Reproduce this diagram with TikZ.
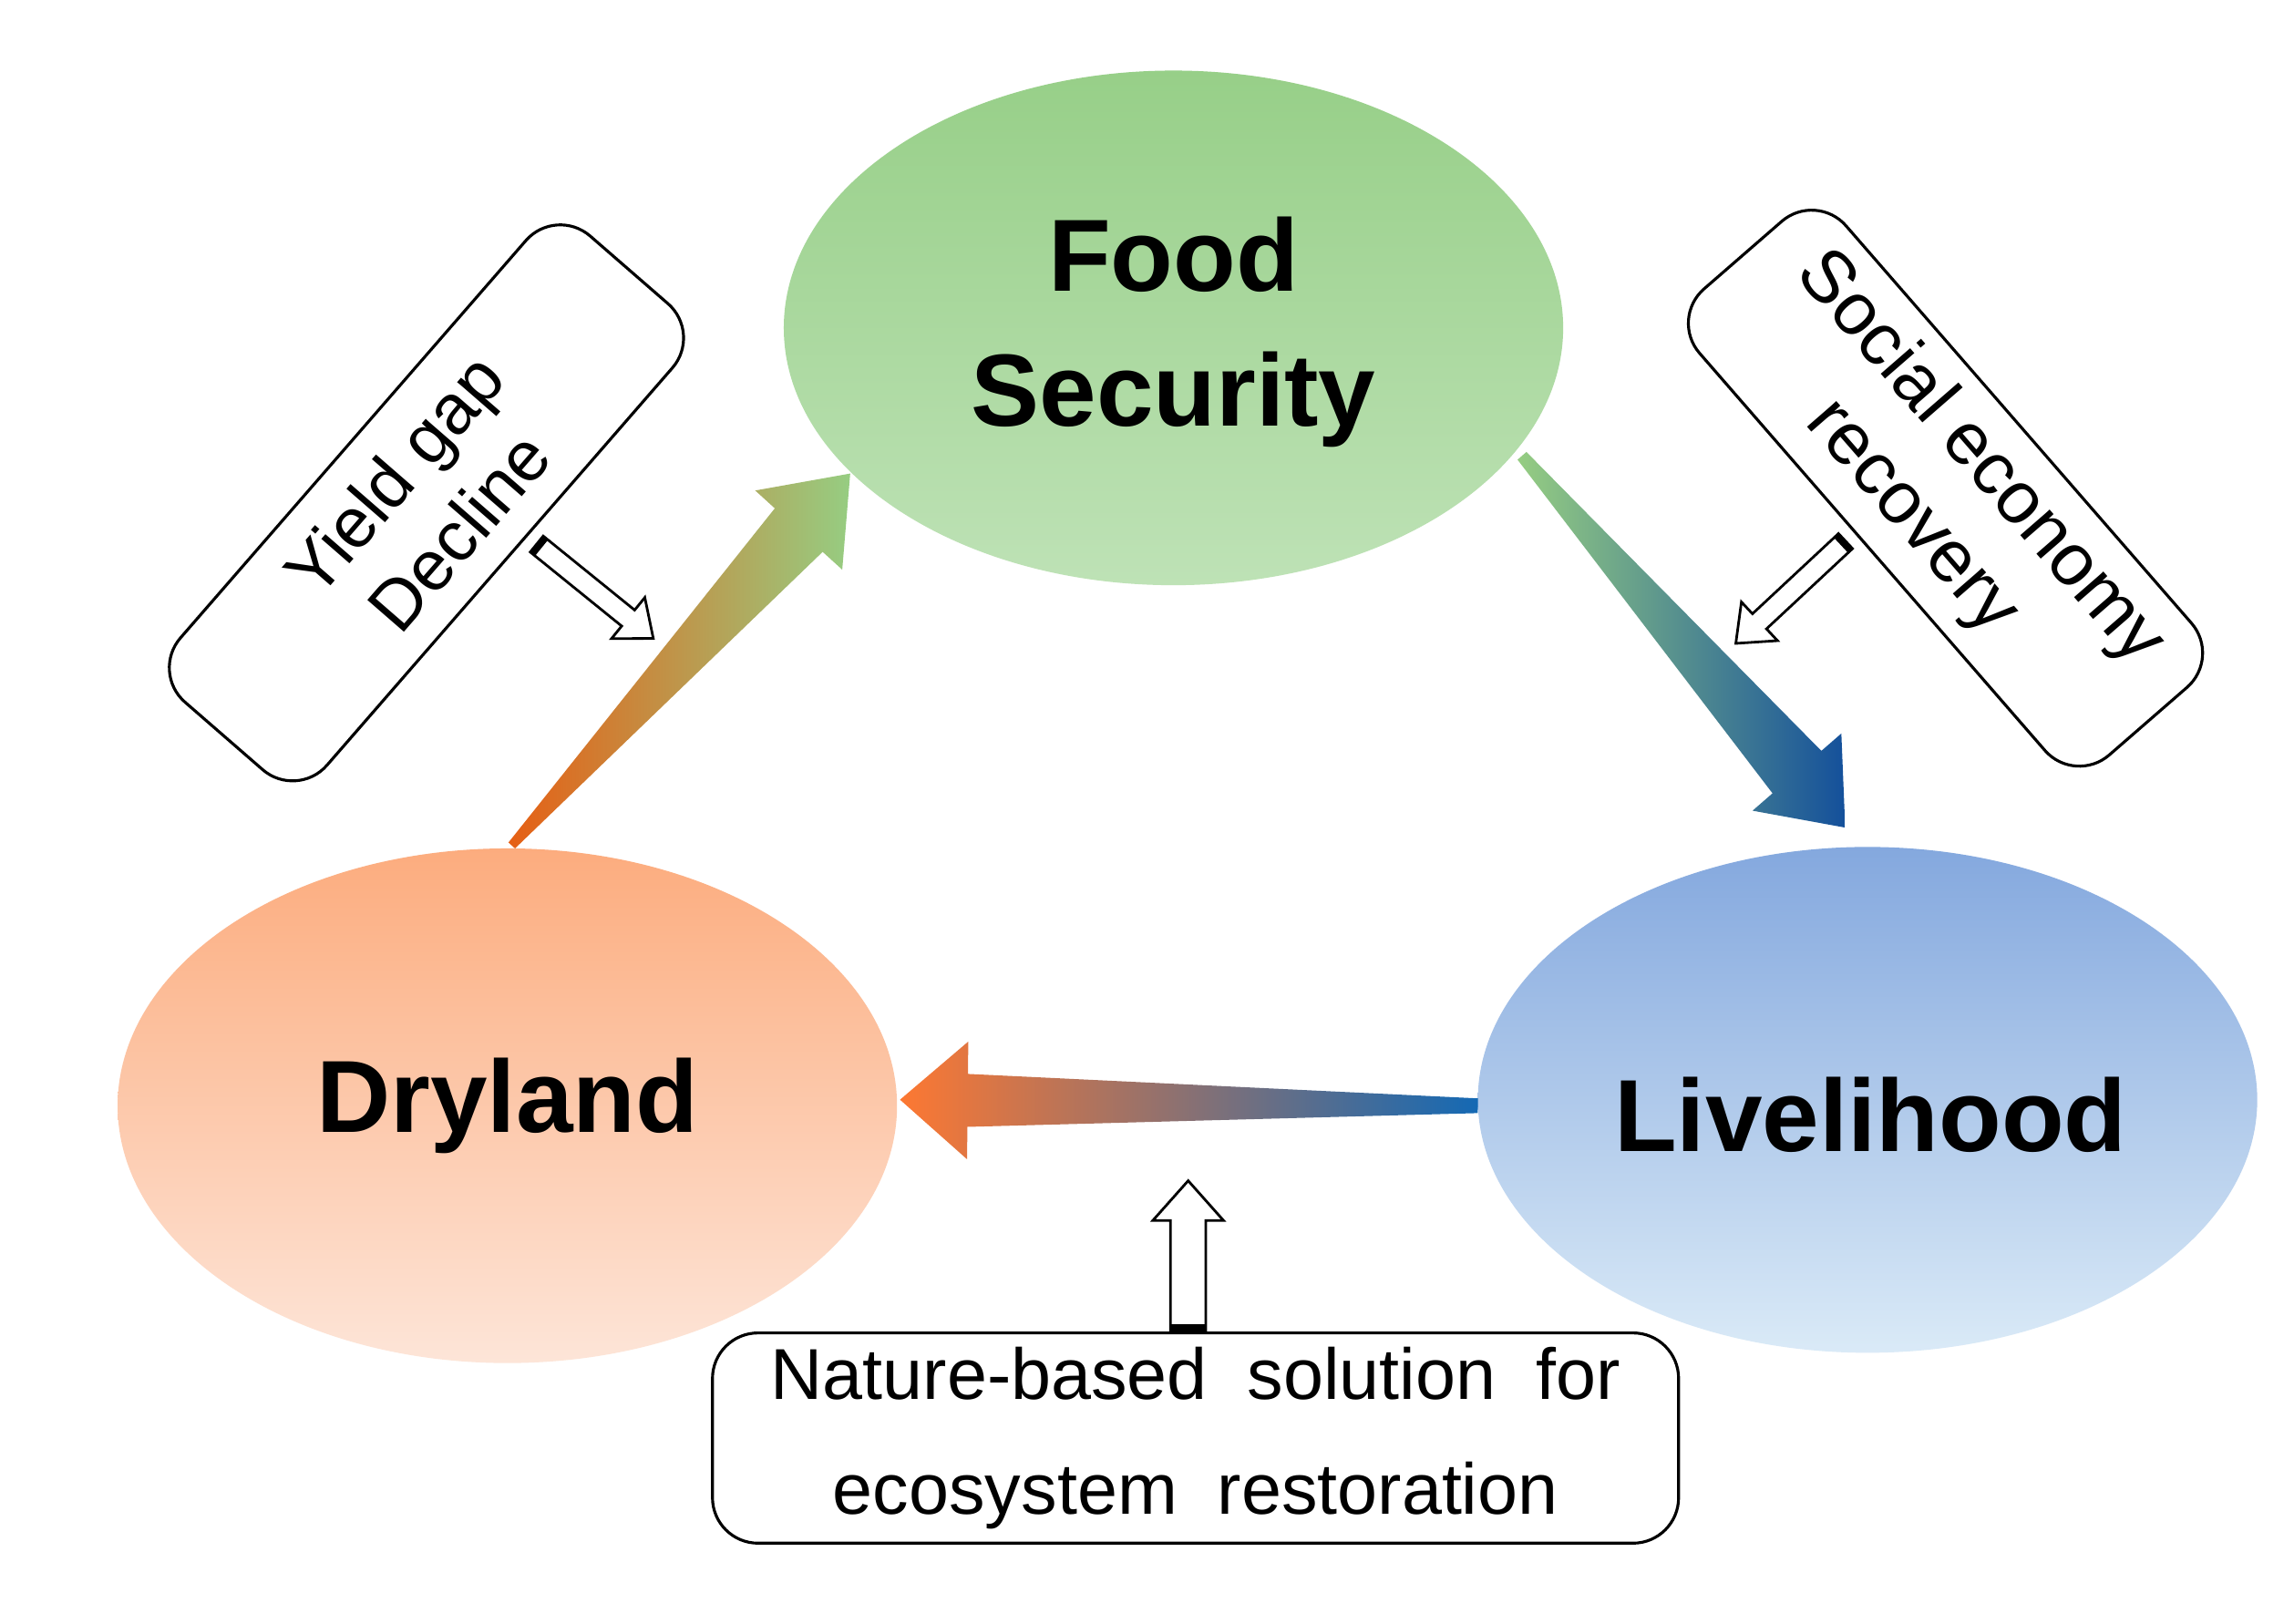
\documentclass[tikz,border=0pt]{standalone}
\usepackage{fontspec}
\setmainfont{Liberation Sans}
\usetikzlibrary{shapes.geometric}
\definecolor{gT}{RGB}{151,207,136}
\definecolor{gB}{RGB}{190,226,182}
\definecolor{oT}{RGB}{252,172,126}
\definecolor{oB}{RGB}{253,229,216}
\definecolor{bT}{RGB}{132,168,222}
\definecolor{bB}{RGB}{218,234,247}
\definecolor{aO}{RGB}{230,95,20}
\definecolor{aG}{RGB}{150,205,130}
\definecolor{aB}{RGB}{20,80,155}
\definecolor{aB2}{RGB}{20,105,180}
\definecolor{aP}{RGB}{215,125,125}
\definecolor{aO2}{RGB}{253,120,50}
\begin{document}
\begin{tikzpicture}[x=0.01613cm,y=-0.01613cm,
  big/.style={ellipse,minimum width=530*0.01613cm,minimum height=350*0.01613cm,inner sep=0,font=\fontsize{32}{38}\selectfont\bfseries,align=center},
  lbl/.style={draw,rounded corners=0.5cm,align=center,line width=0.9pt},
  hol/.style={draw,fill=white,line width=0.8pt}]
\useasboundingbox (0,0) rectangle (1560,1104);
\fill[white] (0,0) rectangle (1560,1104);
% ellipses
\shade[top color=gT,bottom color=gB] (798,223) ellipse [x radius=265,y radius=175];
\shade[top color=oT,bottom color=oB] (345,752) ellipse [x radius=265,y radius=175];
\shade[top color=bT,bottom color=bB] (1270,748) ellipse [x radius=265,y radius=172];
\node[big] (food) at (798,226) {Food\\[4pt]Security};
\node[big] (dry) at (345,752) {Dryland};
\node[big] (live) at (1272,758) {Livelihood};
% tapered arrows
\begin{scope}[shift={(348,575)},rotate=47.7]
\shade[left color=aO,right color=aG]
 (0,-3)--(290,-22)--(290,-40)--(342,0)--(290,40)--(290,22)--(0,3)--cycle;
\end{scope}
\begin{scope}[shift={(1035,310)},rotate=-49]
\shade[left color=aG,right color=aB]
 (0,-4)--(285,-22)--(285,-40)--(335,0)--(285,40)--(285,22)--(0,4)--cycle;
\end{scope}
\begin{scope}[shift={(1005,752)},rotate=179.4]
\shade[left color=aO2,middle color=aP,right color=aB2]
 (0,-5)--(347,-18)--(347,-40)--(393,0)--(347,40)--(347,18)--(0,5)--cycle;
\end{scope}
% label boxes
\node[lbl,rotate=49,minimum width=420*0.01613cm,minimum height=132*0.01613cm,font=\fontsize{22}{27}\selectfont] (yg) at (290,342) {Yield gap\\Decline};
\node[lbl,rotate=-49,minimum width=420*0.01613cm,minimum height=132*0.01613cm,font=\fontsize{23}{28}\selectfont] (se) at (1323,332) {Social economy\\recovery};
\node[lbl,minimum width=657*0.01613cm,minimum height=143*0.01613cm,font=\fontsize{22.5}{36}\selectfont] (nb) at (813,978) {Nature-based\ \ solution\ \ for\\ecosystem\ \ restoration};
% hollow arrows
\begin{scope}[shift={(365,370)},rotate=-39]
\draw[hol] (0,-7)--(80,-7)--(80,-18)--(102,0)--(80,18)--(80,7)--(0,7)--cycle;
\draw[line width=2pt] (2,-7)--(2,7);
\end{scope}
\begin{scope}[shift={(1255,368)},rotate=-137]
\draw[hol] (0,-7)--(80,-7)--(80,-18)--(102,0)--(80,18)--(80,7)--(0,7)--cycle;
\draw[line width=2pt] (2,-7)--(2,7);
\end{scope}
\begin{scope}[shift={(808,905)},rotate=90]
\draw[hol] (0,-12)--(75,-12)--(75,-24)--(102,0)--(75,24)--(75,12)--(0,12)--cycle;
\draw[line width=2pt] (2,-12)--(2,12);
\end{scope}
\end{tikzpicture}
\end{document}
